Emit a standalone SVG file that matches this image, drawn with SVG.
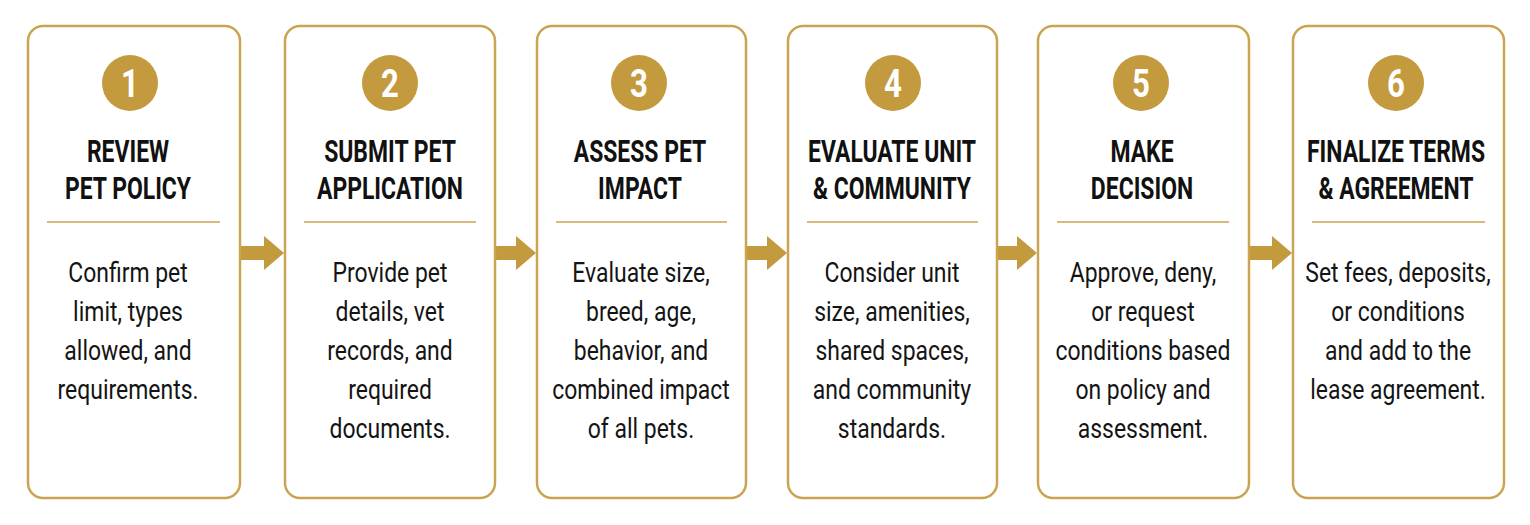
<svg xmlns="http://www.w3.org/2000/svg" width="1530" height="525" viewBox="0 0 1530 525">
<style>
.box{fill:#fff;stroke:#C9A552;stroke-width:2.5}
.num{fill:#C49A3E}
.ntx{font-family:Roboto,"Liberation Sans",sans-serif;font-weight:bold;font-size:39px;fill:#fff;text-anchor:middle}
.ttl{font-family:Roboto,"Liberation Sans",sans-serif;font-weight:bold;font-size:31px;fill:#111;text-anchor:middle}
.div{stroke:#C9A552;stroke-width:1.6}
.bdy{font-family:Roboto,"Liberation Sans",sans-serif;font-size:27px;fill:#141414;text-anchor:middle}
.arr{fill:#C49A3E}
</style>
<rect width="1530" height="525" fill="#fff"/>
<g id="connectors">
<path class="arr" d="M240,246H264V236L284,253L264,270V260H240Z"/>
<path class="arr" d="M495,246H516V236L536,253L516,270V260H495Z"/>
<path class="arr" d="M746,246H767V236L787,253L767,270V260H746Z"/>
<path class="arr" d="M997,246H1017V236L1037,253L1017,270V260H997Z"/>
<path class="arr" d="M1249,246H1272V236L1292,253L1272,270V260H1249Z"/>
</g>
<g id="step1">
<rect class="box" x="28" y="26" width="212" height="472" rx="15"/>
<circle class="num" cx="130" cy="83" r="28"/>
<text class="ntx" transform="translate(130,97) scale(0.8,1)">1</text>
<text class="ttl" transform="translate(128,162) scale(0.74,1)">REVIEW</text>
<text class="ttl" transform="translate(128,199) scale(0.74,1)">PET POLICY</text>
<line class="div" x1="47" y1="222" x2="220" y2="222"/>
<text class="bdy" transform="translate(128,282) scale(0.85,1)">Confirm pet</text>
<text class="bdy" transform="translate(128,321) scale(0.85,1)">limit, types</text>
<text class="bdy" transform="translate(128,360) scale(0.85,1)">allowed, and</text>
<text class="bdy" transform="translate(128,399) scale(0.85,1)">requirements.</text>
</g>
<g id="step2">
<rect class="box" x="285" y="26" width="210" height="472" rx="15"/>
<circle class="num" cx="390" cy="83" r="28"/>
<text class="ntx" transform="translate(390,97) scale(0.8,1)">2</text>
<text class="ttl" transform="translate(390,162) scale(0.74,1)">SUBMIT PET</text>
<text class="ttl" transform="translate(390,199) scale(0.74,1)">APPLICATION</text>
<line class="div" x1="304" y1="222" x2="476" y2="222"/>
<text class="bdy" transform="translate(390,282) scale(0.85,1)">Provide pet</text>
<text class="bdy" transform="translate(390,321) scale(0.85,1)">details, vet</text>
<text class="bdy" transform="translate(390,360) scale(0.85,1)">records, and</text>
<text class="bdy" transform="translate(390,399) scale(0.85,1)">required</text>
<text class="bdy" transform="translate(390,438) scale(0.85,1)">documents.</text>
</g>
<g id="step3">
<rect class="box" x="537" y="26" width="209" height="472" rx="15"/>
<circle class="num" cx="639" cy="83" r="28"/>
<text class="ntx" transform="translate(639,97) scale(0.8,1)">3</text>
<text class="ttl" transform="translate(640,162) scale(0.74,1)">ASSESS PET</text>
<text class="ttl" transform="translate(640,199) scale(0.74,1)">IMPACT</text>
<line class="div" x1="556" y1="222" x2="727" y2="222"/>
<text class="bdy" transform="translate(641,282) scale(0.85,1)">Evaluate size,</text>
<text class="bdy" transform="translate(641,321) scale(0.85,1)">breed, age,</text>
<text class="bdy" transform="translate(641,360) scale(0.85,1)">behavior, and</text>
<text class="bdy" transform="translate(641,399) scale(0.85,1)">combined impact</text>
<text class="bdy" transform="translate(641,438) scale(0.85,1)">of all pets.</text>
</g>
<g id="step4">
<rect class="box" x="788" y="26" width="209" height="472" rx="15"/>
<circle class="num" cx="893" cy="83" r="28"/>
<text class="ntx" transform="translate(893,97) scale(0.8,1)">4</text>
<text class="ttl" transform="translate(892,162) scale(0.74,1)">EVALUATE UNIT</text>
<text class="ttl" transform="translate(892,199) scale(0.74,1)">&amp; COMMUNITY</text>
<line class="div" x1="807" y1="222" x2="978" y2="222"/>
<text class="bdy" transform="translate(892,282) scale(0.85,1)">Consider unit</text>
<text class="bdy" transform="translate(892,321) scale(0.85,1)">size, amenities,</text>
<text class="bdy" transform="translate(892,360) scale(0.85,1)">shared spaces,</text>
<text class="bdy" transform="translate(892,399) scale(0.85,1)">and community</text>
<text class="bdy" transform="translate(892,438) scale(0.85,1)">standards.</text>
</g>
<g id="step5">
<rect class="box" x="1038" y="26" width="211" height="472" rx="15"/>
<circle class="num" cx="1141" cy="83" r="28"/>
<text class="ntx" transform="translate(1141,97) scale(0.8,1)">5</text>
<text class="ttl" transform="translate(1142,162) scale(0.74,1)">MAKE</text>
<text class="ttl" transform="translate(1142,199) scale(0.74,1)">DECISION</text>
<line class="div" x1="1057" y1="222" x2="1229" y2="222"/>
<text class="bdy" transform="translate(1143,282) scale(0.85,1)">Approve, deny,</text>
<text class="bdy" transform="translate(1143,321) scale(0.85,1)">or request</text>
<text class="bdy" transform="translate(1143,360) scale(0.85,1)">conditions based</text>
<text class="bdy" transform="translate(1143,399) scale(0.85,1)">on policy and</text>
<text class="bdy" transform="translate(1143,438) scale(0.85,1)">assessment.</text>
</g>
<g id="step6">
<rect class="box" x="1293" y="26" width="211" height="472" rx="15"/>
<circle class="num" cx="1396" cy="83" r="28"/>
<text class="ntx" transform="translate(1396,97) scale(0.8,1)">6</text>
<text class="ttl" transform="translate(1396,162) scale(0.74,1)">FINALIZE TERMS</text>
<text class="ttl" transform="translate(1396,199) scale(0.74,1)">&amp; AGREEMENT</text>
<line class="div" x1="1312" y1="222" x2="1485" y2="222"/>
<text class="bdy" transform="translate(1398,282) scale(0.85,1)">Set fees, deposits,</text>
<text class="bdy" transform="translate(1398,321) scale(0.85,1)">or conditions</text>
<text class="bdy" transform="translate(1398,360) scale(0.85,1)">and add to the</text>
<text class="bdy" transform="translate(1398,399) scale(0.85,1)">lease agreement.</text>
</g>
</svg>
